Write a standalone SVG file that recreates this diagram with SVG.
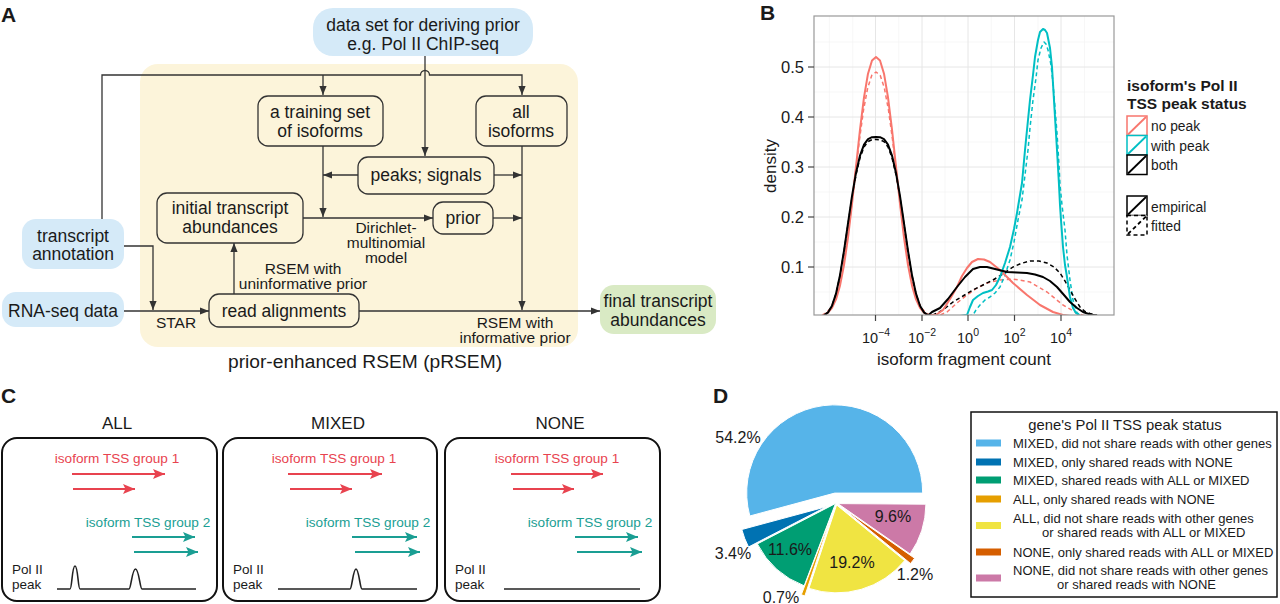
<svg xmlns="http://www.w3.org/2000/svg" width="1280" height="604" viewBox="0 0 1280 604">
<defs>
<style>
text{font-family:"Liberation Sans",Arial,Helvetica,sans-serif;fill:#1a1a1a}
.pl{font-size:21px;font-weight:bold}
.na{font-size:17.5px;text-anchor:middle}
.lb{font-size:15.5px;text-anchor:middle}
.ob{fill:none;stroke:#333;stroke-width:1.3}
.bl{fill:#d5eaf8}
.cn{fill:none;stroke:#333;stroke-width:1.3}
.ax{font-size:16.5px}
.grM{stroke:#e6e6e6;stroke-width:1}
.grm{stroke:#f3f3f3;stroke-width:0.7}
.cv{fill:none;stroke-width:2;stroke-linejoin:round}
.ds{stroke-dasharray:4 3;stroke-width:1.5}
.lg{font-size:13.8px}
.ct{font-size:17px;text-anchor:middle}
.cb{fill:none;stroke:#111;stroke-width:2}
.rt{font-size:13.6px;text-anchor:middle;fill:#e8434f}
.tt{font-size:13.6px;text-anchor:middle;fill:#1a9e93}
.ra{stroke:#e8434f;stroke-width:2.2}
.ta{stroke:#1a9e93;stroke-width:2.2}
.pp{font-size:13.5px}
.sig{fill:none;stroke:#222;stroke-width:1.6}
.pc{font-size:16px;text-anchor:middle}
.dl{font-size:13px}
.sl{stroke:#fff;stroke-width:1}
</style>
<marker id="ah" viewBox="0 0 10 8" refX="10" refY="4" markerWidth="9" markerHeight="7.2" markerUnits="userSpaceOnUse" orient="auto"><path d="M0,0 L10,4 L0,8 Z" fill="#333"/></marker>
<marker id="ar" viewBox="0 0 12 10" refX="12" refY="5" markerWidth="12" markerHeight="10" markerUnits="userSpaceOnUse" orient="auto"><path d="M0,0 L12,5 L0,10 L2.5,5 Z" fill="#e8434f"/></marker>
<marker id="at" viewBox="0 0 12 10" refX="12" refY="5" markerWidth="12" markerHeight="10" markerUnits="userSpaceOnUse" orient="auto"><path d="M0,0 L12,5 L0,10 L2.5,5 Z" fill="#1a9e93"/></marker>
<clipPath id="pc"><rect x="814" y="16" width="300" height="299"/></clipPath>
</defs>
<rect width="1280" height="604" fill="#fff"/>

<!-- ============ PANEL A ============ -->
<g id="panelA">
<text class="pl" x="1" y="22">A</text>
<rect id="pRSEM-region" x="140" y="64" width="438" height="283" rx="18" fill="#fcf4da"/>
<text x="365" y="368" text-anchor="middle" font-size="19.2px">prior-enhanced RSEM (pRSEM)</text>
</g>

<g id="connectorsA">
<path class="cn" d="M425,56 V156" marker-end="url(#ah)"/>
<path class="cn" d="M102,219 V75 H420.5 A4.5,4.5 0 0 1 429.5,75 H522 V95" marker-end="url(#ah)"/>
<path class="cn" d="M323,75 V95" marker-end="url(#ah)"/>
<path class="cn" d="M323,146 V217" marker-end="url(#ah)"/>
<path class="cn" d="M358,175 H323" marker-end="url(#ah)"/>
<path class="cn" d="M494,175 H522" marker-end="url(#ah)"/>
<path class="cn" d="M303,218 H433" marker-end="url(#ah)"/>
<path class="cn" d="M493,218 H522" marker-end="url(#ah)"/>
<path class="cn" d="M522,146 V310" marker-end="url(#ah)"/>
<path class="cn" d="M234,294 V243" marker-end="url(#ah)"/>
<path class="cn" d="M359,311 H600" marker-end="url(#ah)"/>
<path class="cn" d="M124,246 H153 V310" marker-end="url(#ah)"/>
<path class="cn" d="M124,311 H209" marker-end="url(#ah)"/>
<text class="lb" x="176" y="328">STAR</text>
<text class="lb" x="386" y="233">Dirichlet-</text>
<text class="lb" x="386" y="248">multinomial</text>
<text class="lb" x="386" y="263">model</text>
<text class="lb" x="303" y="274">RSEM with</text>
<text class="lb" x="303" y="289">uninformative prior</text>
<text class="lb" x="515" y="328">RSEM with</text>
<text class="lb" x="515" y="343">informative prior</text>
</g>

<g id="node-dataset">
<rect class="bl" x="313" y="8" width="220" height="48" rx="20"/>
<text class="na" x="423" y="31">data set for deriving prior</text>
<text class="na" x="423" y="50">e.g. Pol II ChIP-seq</text>
</g>
<g id="node-training">
<rect class="ob" x="258" y="96" width="125" height="50" rx="10"/>
<text class="na" x="320" y="118">a training set</text>
<text class="na" x="320" y="137">of isoforms</text>
</g>
<g id="node-all">
<rect class="ob" x="476" y="96" width="91" height="50" rx="10"/>
<text class="na" x="521" y="118">all</text>
<text class="na" x="521" y="137">isoforms</text>
</g>
<g id="node-peaks">
<rect class="ob" x="358" y="157" width="136" height="37" rx="10"/>
<text class="na" x="426" y="181">peaks; signals</text>
</g>
<g id="node-initial">
<rect class="ob" x="157" y="193" width="146" height="50" rx="10"/>
<text class="na" x="230" y="214">initial transcript</text>
<text class="na" x="230" y="233">abundances</text>
</g>
<g id="node-prior">
<rect class="ob" x="433" y="202" width="60" height="32" rx="10"/>
<text class="na" x="463" y="224">prior</text>
</g>
<g id="node-reads">
<rect class="ob" x="209" y="294" width="150" height="33" rx="10"/>
<text class="na" x="284" y="317">read alignments</text>
</g>
<g id="node-annotation">
<rect class="bl" x="22" y="219" width="102" height="50" rx="14"/>
<text class="na" x="73" y="242">transcript</text>
<text class="na" x="73" y="260">annotation</text>
</g>
<g id="node-rnaseq">
<rect class="bl" x="2" y="292" width="122" height="35" rx="14"/>
<text class="na" x="63" y="317">RNA-seq data</text>
</g>
<g id="node-final">
<rect x="600" y="285" width="116" height="49" rx="14" fill="#d9eac4"/>
<text class="na" x="658" y="307">final transcript</text>
<text class="na" x="658" y="326">abundances</text>
</g>

<!-- ============ PANEL B ============ -->
<g id="panelB">
<text class="pl" x="760" y="20">B</text>
<g id="grid">
<line class="grm" x1="829.4" y1="16" x2="829.4" y2="315"/>
<line class="grm" x1="852.7" y1="16" x2="852.7" y2="315"/>
<line class="grm" x1="898.7" y1="16" x2="898.7" y2="315"/>
<line class="grm" x1="945" y1="16" x2="945" y2="315"/>
<line class="grm" x1="991.2" y1="16" x2="991.2" y2="315"/>
<line class="grm" x1="1038" y1="16" x2="1038" y2="315"/>
<line class="grm" x1="1084.5" y1="16" x2="1084.5" y2="315"/>
<line class="grm" x1="814" y1="42" x2="1114" y2="42"/>
<line class="grm" x1="814" y1="92" x2="1114" y2="92"/>
<line class="grm" x1="814" y1="142" x2="1114" y2="142"/>
<line class="grm" x1="814" y1="192" x2="1114" y2="192"/>
<line class="grm" x1="814" y1="242" x2="1114" y2="242"/>
<line class="grm" x1="814" y1="292" x2="1114" y2="292"/>
<line class="grM" x1="875.5" y1="16" x2="875.5" y2="315"/>
<line class="grM" x1="922" y1="16" x2="922" y2="315"/>
<line class="grM" x1="968" y1="16" x2="968" y2="315"/>
<line class="grM" x1="1014.5" y1="16" x2="1014.5" y2="315"/>
<line class="grM" x1="1061" y1="16" x2="1061" y2="315"/>
<line class="grM" x1="814" y1="67" x2="1114" y2="67"/>
<line class="grM" x1="814" y1="117" x2="1114" y2="117"/>
<line class="grM" x1="814" y1="167" x2="1114" y2="167"/>
<line class="grM" x1="814" y1="217" x2="1114" y2="217"/>
<line class="grM" x1="814" y1="267" x2="1114" y2="267"/>
</g>
<g id="curves" clip-path="url(#pc)">
<path class="cv ds" stroke="#f8766d" d="M822,315.2 L826.1,312.9 L830.2,308.4 L834.4,300.4 L838.6,287.4 L842.7,268.1 L846.9,242.2 L851,210.4 L855.2,175.1 L859.4,140.4 L863.5,110.1 L867.7,87.8 L871.8,75.3 L876,72 L880.2,75.3 L884.3,87.8 L888.5,110.1 L892.6,140.4 L896.8,175.1 L901,210.4 L905.1,242.2 L909.3,268.1 L913.4,287.4 L917.6,300.4 L921.8,308.4 L925.9,312.9 L930,315.2 L940,315 L947,312 L957,303 L967,295 L977,288 L987,283 L1000,280 L1013,279 L1030,282 L1047,292 L1063,305 L1077,313 L1085,316"/>
<path class="cv ds" stroke="#00bfc4" d="M968,316 L973,315 L976,310 L980,305 L985,300 L990,297 L995,293 L1000,287 L1005,275 L1010,260 L1014,242 L1018,220 L1022,200 L1025,175 L1028,150 L1030,128 L1033,100 L1036,78 L1038,60 L1041,48 L1044,42 L1046,44 L1048,50 L1051,65 L1053,83 L1055,108 L1057,133 L1059,165 L1060,185 L1062,205 L1065,230 L1067,255 L1070,280 L1073,300 L1077,313 L1082,316"/>
<path class="cv ds" stroke="#000" d="M824,315.4 L828,312.4 L832,305.9 L836,294 L840,275.7 L844,251.7 L848,224.6 L852,197.8 L856,174.9 L860,157.8 L864,147 L868,141.6 L872,139.7 L876,139.5 L880,139.7 L884,141.6 L888,147 L892,157.8 L896,174.9 L900,197.8 L904,224.6 L908,251.7 L912,275.7 L916,294 L920,305.9 L924,312.4 L928,315.4 L933,315 L943,310 L953,302 L963,296 L973,290 L983,285 L993,280 L1003,274 L1013,267 L1021,263.5 L1030,261 L1039,261 L1047,263 L1054,267 L1060,273 L1065,281 L1070,290 L1075,299 L1080,307 L1085,311.5 L1090,313.5 L1097,315.5"/>
<path class="cv" stroke="#f8766d" d="M824,315.1 L828,312.7 L832,307.9 L836,299.4 L840,285.6 L844,265.1 L848,237.6 L852,203.9 L856,166.5 L860,129.5 L864,97.4 L868,73.7 L872,60.5 L876,57 L880,60.5 L884,73.7 L888,97.4 L892,129.5 L896,166.5 L900,203.9 L904,237.6 L908,265.1 L912,285.6 L916,299.4 L920,307.9 L924,312.7 L928,315.1 L936,315 L943,310 L950,299 L957,287 L962,276 L967,268 L972,262 L978,259 L984,259.5 L990,262 L1000,270 L1013,283 L1027,295 L1040,305 L1053,312 L1063,315 L1070,316"/>
<path class="cv" stroke="#00bfc4" d="M960,316 L967,315 L970,307 L973,300 L978,296 L983,293 L988,291.5 L992,290 L996,285 L1000,277 L1005,263 L1010,247 L1014,229 L1017,213 L1020,195 L1022,183 L1025,150 L1028,120 L1030,100 L1033,75 L1035,57 L1038,40 L1040,32 L1043,29 L1045,30 L1047,33 L1050,48 L1052,67 L1055,117 L1057,150 L1058,167 L1059,185 L1060,205 L1061,220 L1063,247 L1065,265 L1067,277 L1070,297 L1073,308 L1076,313 L1080,315.5"/>
<path class="cv" stroke="#000" d="M824,315.4 L828,312.4 L832,305.7 L836,293.6 L840,275.1 L844,250.8 L848,223.3 L852,196.1 L856,172.9 L860,155.6 L864,144.6 L868,139.1 L872,137.2 L876,137 L880,137.2 L884,139.1 L888,144.6 L892,155.6 L896,172.9 L900,196.1 L904,223.3 L908,250.8 L912,275.1 L916,293.6 L920,305.7 L924,312.4 L928,315.4 L932,312 L940,308 L948,299 L957,287 L965,277 L973,269 L980,267 L987,267 L997,269.5 L1007,272 L1017,272.5 L1027,273 L1035,274.5 L1043,277 L1050,281 L1057,287 L1064,295 L1070,302 L1077,308 L1083,312 L1090,314.5 L1097,315.5"/>
</g>
<rect x="814" y="16" width="300" height="299" fill="none" stroke="#999" stroke-width="1.2"/>
<g id="ticks" stroke="#444" stroke-width="1.2">
<line x1="808" y1="67" x2="814" y2="67"/><line x1="808" y1="117" x2="814" y2="117"/><line x1="808" y1="167" x2="814" y2="167"/><line x1="808" y1="217" x2="814" y2="217"/><line x1="808" y1="267" x2="814" y2="267"/>
<line x1="875.5" y1="315" x2="875.5" y2="321"/><line x1="922" y1="315" x2="922" y2="321"/><line x1="968" y1="315" x2="968" y2="321"/><line x1="1014.5" y1="315" x2="1014.5" y2="321"/><line x1="1061" y1="315" x2="1061" y2="321"/>
</g>
<g id="ylabels" class="ax" text-anchor="end">
<text x="804" y="73" text-anchor="end">0.5</text>
<text x="804" y="123" text-anchor="end">0.4</text>
<text x="804" y="173" text-anchor="end">0.3</text>
<text x="804" y="223" text-anchor="end">0.2</text>
<text x="804" y="273" text-anchor="end">0.1</text>
</g>
<g id="xlabels" font-size="14.5px">
<text x="876" y="343" text-anchor="middle" font-size="14.5px">10<tspan font-size="10.5px" dy="-7">−4</tspan></text>
<text x="922" y="343" text-anchor="middle" font-size="14.5px">10<tspan font-size="10.5px" dy="-7">−2</tspan></text>
<text x="968" y="343" text-anchor="middle" font-size="14.5px">10<tspan font-size="10.5px" dy="-7">0</tspan></text>
<text x="1014.5" y="343" text-anchor="middle" font-size="14.5px">10<tspan font-size="10.5px" dy="-7">2</tspan></text>
<text x="1061" y="343" text-anchor="middle" font-size="14.5px">10<tspan font-size="10.5px" dy="-7">4</tspan></text>
</g>
<text x="964" y="365" text-anchor="middle" font-size="17px">isoform fragment count</text>
<text x="0" y="0" text-anchor="middle" font-size="17px" transform="translate(776,166) rotate(-90)">density</text>
<g id="legendB">
<text x="1127" y="91" font-size="15.5px" font-weight="bold">isoform's Pol II</text>
<text x="1127" y="109" font-size="15.5px" font-weight="bold">TSS peak status</text>
<rect x="1127" y="116" width="20" height="19.5" fill="#fff" stroke="#f8766d" stroke-width="1.5"/>
<line x1="1128" y1="134.5" x2="1146" y2="117" stroke="#f8766d" stroke-width="1.8"/>
<rect x="1127" y="135.5" width="20" height="19.5" fill="#fff" stroke="#00bfc4" stroke-width="1.5"/>
<line x1="1128" y1="154" x2="1146" y2="136.5" stroke="#00bfc4" stroke-width="1.8"/>
<rect x="1127" y="155" width="20" height="19.5" fill="#fff" stroke="#000" stroke-width="1.5"/>
<line x1="1128" y1="173.5" x2="1146" y2="156" stroke="#000" stroke-width="1.8"/>
<text class="lg" x="1151" y="131">no peak</text>
<text class="lg" x="1151" y="151">with peak</text>
<text class="lg" x="1151" y="170">both</text>
<rect x="1127" y="196" width="20" height="19.5" fill="#fff" stroke="#000" stroke-width="1.5"/>
<line x1="1128" y1="214.5" x2="1146" y2="197" stroke="#000" stroke-width="1.8"/>
<rect x="1127" y="215.5" width="20" height="19.5" fill="#fff" stroke="#000" stroke-width="1.5" stroke-dasharray="4 3"/>
<line x1="1128" y1="234" x2="1146" y2="216.5" stroke="#000" stroke-width="1.8" stroke-dasharray="4 3"/>
<text class="lg" x="1151" y="212">empirical</text>
<text class="lg" x="1151" y="231">fitted</text>
</g>
</g>

<!-- ============ PANEL C ============ -->
<g id="panelC">
<text class="pl" x="1" y="403">C</text>
</g>
<g id="box-ALL">
<text class="ct" x="117" y="429">ALL</text>
<rect class="cb" x="2" y="438" width="215" height="163" rx="15"/>
<text class="rt" x="117" y="463">isoform TSS group 1</text>
<line class="ra" x1="72" y1="474" x2="165" y2="474" marker-end="url(#ar)"/>
<line class="ra" x1="73" y1="489" x2="135" y2="489" marker-end="url(#ar)"/>
<text class="tt" x="148" y="527">isoform TSS group 2</text>
<line class="ta" x1="132" y1="537" x2="195" y2="537" marker-end="url(#at)"/>
<line class="ta" x1="134" y1="552" x2="198" y2="552" marker-end="url(#at)"/>
<text class="pp" x="12" y="573.5">Pol II</text>
<text class="pp" x="12" y="589">peak</text>
<path class="sig" d="M57,589 H70 C72,589 72,566 75,566 C78,566 78,589 80,589 H129 C131,589 132,569 135.5,569 C139,569 140,589 142,589 H196"/>
</g>
<g id="box-MIXED">
<text class="ct" x="338" y="429">MIXED</text>
<rect class="cb" x="223" y="438" width="214" height="163" rx="15"/>
<text class="rt" x="334" y="463">isoform TSS group 1</text>
<line class="ra" x1="288" y1="474" x2="382" y2="474" marker-end="url(#ar)"/>
<line class="ra" x1="290" y1="489" x2="352" y2="489" marker-end="url(#ar)"/>
<text class="tt" x="368" y="527">isoform TSS group 2</text>
<line class="ta" x1="352" y1="537" x2="417" y2="537" marker-end="url(#at)"/>
<line class="ta" x1="355" y1="552" x2="420" y2="552" marker-end="url(#at)"/>
<text class="pp" x="233" y="573.5">Pol II</text>
<text class="pp" x="233" y="589">peak</text>
<path class="sig" d="M278,589 H350 C352,589 353,569 356,569 C359,569 360,589 362,589 H417"/>
</g>
<g id="box-NONE">
<text class="ct" x="560" y="429">NONE</text>
<rect class="cb" x="445" y="438" width="215" height="163" rx="15"/>
<text class="rt" x="557" y="463">isoform TSS group 1</text>
<line class="ra" x1="511" y1="474" x2="603" y2="474" marker-end="url(#ar)"/>
<line class="ra" x1="513" y1="489" x2="574" y2="489" marker-end="url(#ar)"/>
<text class="tt" x="590" y="527">isoform TSS group 2</text>
<line class="ta" x1="575" y1="537" x2="638" y2="537" marker-end="url(#at)"/>
<line class="ta" x1="577" y1="552" x2="642" y2="552" marker-end="url(#at)"/>
<text class="pp" x="455" y="573.5">Pol II</text>
<text class="pp" x="455" y="589">peak</text>
<path class="sig" d="M504,589 H640"/>
</g>

<!-- ============ PANEL D ============ -->
<g id="panelD">
<text class="pl" x="713" y="403">D</text>
<g id="pie">
<path class="sl" fill="#56b4e9" d="M834.7,493.1 L922.7,493.1 A88,88 0 1 0 749.8,516 Z"/>
<path class="sl" fill="#0072b2" d="M826.7,506.6 L741.8,529.5 A88,88 0 0 0 748.5,547 Z"/>
<path class="sl" fill="#009e73" d="M835.5,503.5 L757.3,543.9 A88,88 0 0 0 804.2,585.8 Z"/>
<path class="sl" fill="#e69f00" stroke-width="0.5" d="M832.6,512.4 L801.3,594.7 A88,88 0 0 0 804.9,595.9 Z"/>
<path class="sl" fill="#f0e442" d="M836.6,504.9 L808.9,588.4 A88,88 0 0 0 904.7,560.6 Z"/>
<path class="sl" fill="#d55e00" stroke-width="0.5" d="M842.4,507.8 L910.5,563.5 A88,88 0 0 0 914.6,558.2 Z"/>
<path class="sl" fill="#cc79a7" d="M837.9,503.6 L910.1,554 A88,88 0 0 0 925.9,504.2 Z"/>
</g>
<text class="pc" x="738" y="443">54.2%</text>
<text class="pc" x="733" y="559">3.4%</text>
<text class="pc" x="790" y="555">11.6%</text>
<text class="pc" x="852" y="568">19.2%</text>
<text class="pc" x="893" y="522">9.6%</text>
<text class="pc" x="915" y="580">1.2%</text>
<text class="pc" x="781" y="603">0.7%</text>
</g>
<g id="legendD">
<rect x="971" y="412" width="306" height="185" fill="#fff" stroke="#111" stroke-width="1.5"/>
<text x="1125" y="430" text-anchor="middle" font-size="14.8px">gene's Pol II TSS peak status</text>
<rect x="976" y="439.5" width="25" height="7" fill="#56b4e9"/>
<text class="dl" x="1013" y="447.5">MIXED, did not share reads with other genes</text>
<rect x="976" y="458.5" width="25" height="7" fill="#0072b2"/>
<text class="dl" x="1013" y="466.5">MIXED, only shared reads with NONE</text>
<rect x="976" y="476.5" width="25" height="7" fill="#009e73"/>
<text class="dl" x="1013" y="484.5">MIXED, shared reads with ALL or MIXED</text>
<rect x="976" y="495.5" width="25" height="7" fill="#e69f00"/>
<text class="dl" x="1013" y="503.5">ALL, only shared reads with NONE</text>
<rect x="976" y="522" width="25" height="7" fill="#f0e442"/>
<text class="dl" x="1013" y="522.5">ALL, did not share reads with other genes</text>
<text class="dl" x="1042" y="537">or shared reads with ALL or MIXED</text>
<rect x="976" y="548.5" width="25" height="7" fill="#d55e00"/>
<text class="dl" x="1013" y="556.5">NONE, only shared reads with ALL or MIXED</text>
<rect x="976" y="574.5" width="25" height="7" fill="#cc79a7"/>
<text class="dl" x="1013" y="575">NONE, did not share reads with other genes</text>
<text class="dl" x="1057" y="589">or shared reads with NONE</text>
</g>
</svg>
